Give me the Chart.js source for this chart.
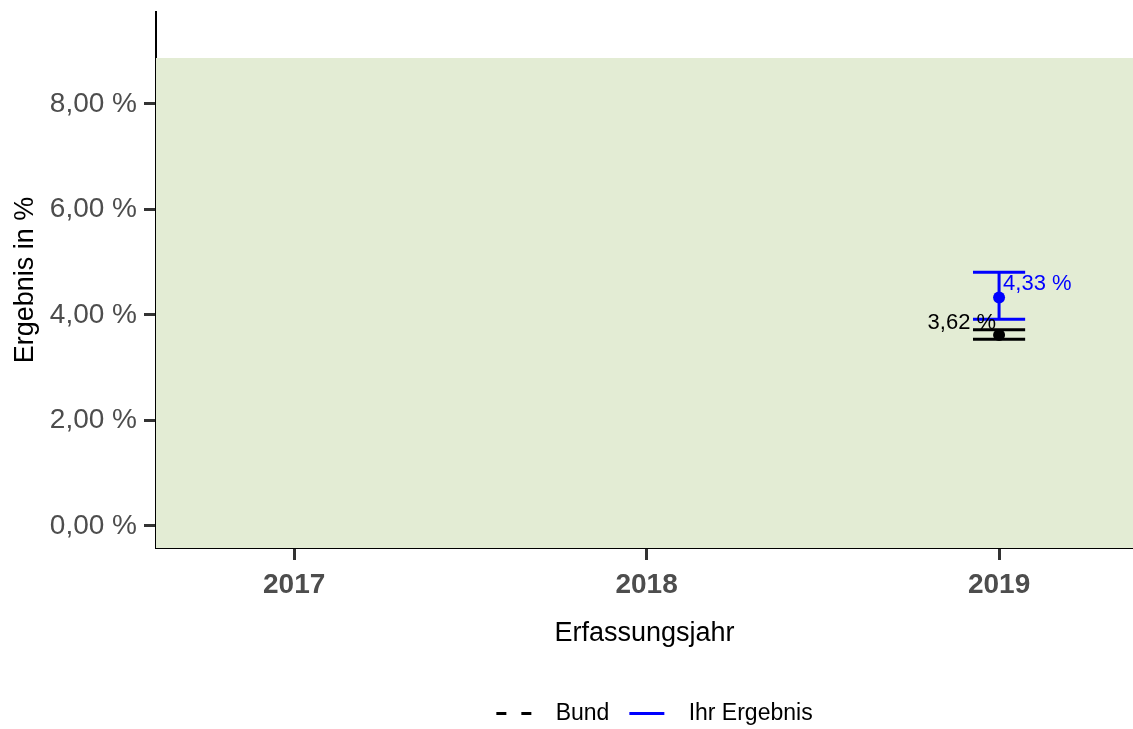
<!DOCTYPE html>
<html>
<head>
<meta charset="utf-8">
<script src="https://cdn.jsdelivr.net/npm/chart.js@4.4.0/dist/chart.umd.min.js"></script>
<style>
  html, body { margin: 0; padding: 0; background: #fff; }
  canvas { display: block; }
</style>
</head>
<body>
<canvas id="chart" width="1133" height="729"></canvas>
<script>
// ==================== DATA ====================
const years = [2019];
const ihrWerte = [4.33];
const ihrUnten = [3.92];
const ihrOben = [4.81];
const bundWerte = [3.62];
const bundUnten = [3.54];
const bundOben = [3.72];
const yTicks = [0, 2, 4, 6, 8];
const xTicks = [2017, 2018, 2019];
const referenzOben = 8.87;   // upper edge of the green reference area

const xMin = 2016.608, xMax = 2019.38;
const yMin = -0.417, yMax = 9.74;
const capHalf = 0.074;

const fontFamily = "'Liberation Sans', Arial, Helvetica, sans-serif";

// ==================== HELPERS ====================
function fmt(v){
    return v.toFixed(2).replace('.', ',') + ' %';
}

function errorBars(xs, lo, hi){
    const pts = [];
    xs.forEach((x, i) => {
        pts.push({x: x, y: lo[i]}, {x: x, y: hi[i]}, {x: x, y: null});
        pts.push({x: x - capHalf, y: hi[i]}, {x: x + capHalf, y: hi[i]}, {x: x, y: null});
        pts.push({x: x - capHalf, y: lo[i]}, {x: x + capHalf, y: lo[i]}, {x: x, y: null});
    });
    return pts;
}

function points(xs, vals){
    return xs.map((x, i) => ({x: x, y: vals[i]}));
}

// value labels next to the points
const valueLabels = {
    id: 'valueLabels',
    afterDatasetsDraw(chart){
        const ctx = chart.ctx;
        chart.data.datasets.forEach((ds, di) => {
            if(!ds.valueLabel) return;
            const meta = chart.getDatasetMeta(di);
            meta.data.forEach((el, i) => {
                const v = ds.data[i].y;
                ctx.save();
                ctx.font = "22px " + fontFamily;
                ctx.fillStyle = ds.valueLabel.color;
                ctx.textAlign = ds.valueLabel.align;
                ctx.textBaseline = 'middle';
                ctx.fillText(fmt(v), el.x + ds.valueLabel.dx, el.y + ds.valueLabel.dy);
                ctx.restore();
            });
        });
    }
};

// legend sits a little right of the plot centre
const legendShift = {
    id: 'legendShift',
    afterLayout(chart){
        if(!chart.legend) return;
        chart.legend.left += 10;
        chart.legend.right += 10;
    }
};

// no extra room for half tick labels at the ends of the axes
function noEdgePadding(scale){
    scale.paddingTop = 0;
    scale.paddingBottom = 0;
    scale.paddingLeft = 0;
    scale.paddingRight = 0;
}

// ==================== CHART ====================
const ctx = document.getElementById('chart').getContext('2d');
const chart = new Chart(ctx, {
    type: 'scatter',
    data: {
        datasets: [
            {
                label: 'Referenzbereich',
                data: [{x: xMin, y: referenzOben}, {x: xMax, y: referenzOben}],
                showLine: true,
                fill: 'start',
                backgroundColor: '#e3ecd4',
                borderWidth: 0,
                pointRadius: 0,
                order: 10
            },
            {
                label: 'Bund KI',
                data: errorBars(years, bundUnten, bundOben),
                showLine: true,
                borderColor: '#000',
                borderWidth: 3,
                pointRadius: 0,
                spanGaps: false,
                order: 4
            },
            {
                label: 'Bund',
                data: points(years, bundWerte),
                backgroundColor: '#000',
                borderColor: '#000',
                pointRadius: 6,
                borderWidth: 0,
                order: 3,
                valueLabel: {color: '#000', align: 'right', dx: -3, dy: -12}
            },
            {
                label: 'Ihr KI',
                data: errorBars(years, ihrUnten, ihrOben),
                showLine: true,
                borderColor: '#0000ff',
                borderWidth: 3,
                pointRadius: 0,
                spanGaps: false,
                order: 2
            },
            {
                label: 'Ihr Ergebnis',
                data: points(years, ihrWerte),
                backgroundColor: '#0000ff',
                borderColor: '#0000ff',
                pointRadius: 6,
                borderWidth: 0,
                order: 1,
                valueLabel: {color: '#0000ff', align: 'left', dx: 4, dy: -14}
            }
        ]
    },
    options: {
        responsive: false,
        animation: false,
        layout: { autoPadding: false, padding: { top: 12, right: 0, left: 0, bottom: -6 } },
        plugins: {
            tooltip: { enabled: false },
            legend: {
                position: 'bottom',
                fullSize: false,
                labels: {
                    usePointStyle: true,
                    pointStyleWidth: 35,
                    padding: 20,
                    color: '#000',
                    font: { family: fontFamily, size: 23 },
                    generateLabels(){
                        return [
                            {text: '  Bund', pointStyle: 'line', strokeStyle: '#000', fillStyle: '#000',
                             lineWidth: 3, lineDash: [10, 15], fontColor: '#000'},
                            {text: '  Ihr Ergebnis', pointStyle: 'line', strokeStyle: '#0000ff', fillStyle: '#0000ff',
                             lineWidth: 3, lineDash: [], fontColor: '#000'}
                        ];
                    }
                }
            }
        },
        scales: {
            x: {
                type: 'linear',
                min: xMin,
                max: xMax,
                afterBuildTicks(scale){ scale.ticks = xTicks.map(v => ({value: v})); },
                afterFit(scale){ scale.height = 134; noEdgePadding(scale); },
                ticks: {
                    color: '#4d4d4d',
                    padding: 8,
                    maxRotation: 0,
                    font: { family: fontFamily, size: 28, weight: 'bold' },
                    callback: v => String(v)
                },
                grid: {
                    drawOnChartArea: false,
                    drawTicks: true,
                    tickLength: 12,
                    tickWidth: 3,
                    tickColor: '#333'
                },
                border: { display: true, color: '#000', width: 2 },
                title: {
                    display: true,
                    text: 'Erfassungsjahr',
                    color: '#000',
                    font: { family: fontFamily, size: 27 },
                    padding: { top: 0, bottom: 32 }
                }
            },
            y: {
                type: 'linear',
                min: yMin,
                max: yMax,
                afterBuildTicks(scale){ scale.ticks = yTicks.map(v => ({value: v})); },
                afterFit(scale){ scale.width = 156; noEdgePadding(scale); },
                ticks: {
                    color: '#4d4d4d',
                    padding: 7,
                    font: { family: fontFamily, size: 28 },
                    callback: v => fmt(v)
                },
                grid: {
                    drawOnChartArea: false,
                    drawTicks: true,
                    tickLength: 12,
                    tickWidth: 3,
                    tickColor: '#333'
                },
                border: { display: true, color: '#000', width: 2 },
                title: {
                    display: true,
                    text: 'Ergebnis in %',
                    color: '#000',
                    font: { family: fontFamily, size: 27 },
                    padding: { top: 9, bottom: 0 }
                }
            }
        }
    },
    plugins: [valueLabels, legendShift]
});
</script>
</body>
</html>
